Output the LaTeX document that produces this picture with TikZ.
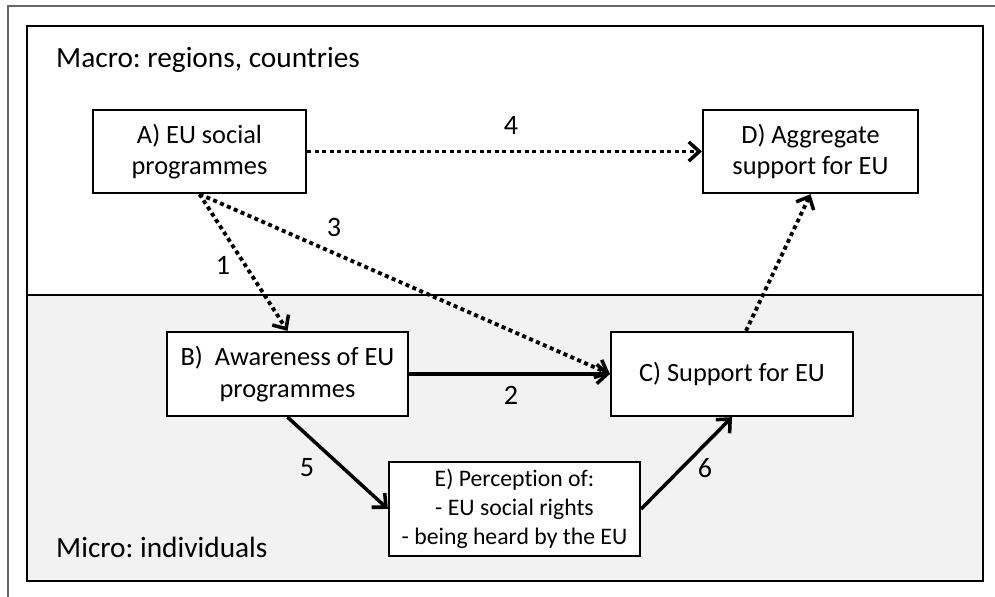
\documentclass[tikz,border=0pt]{standalone}
\usepackage{fontspec}
\setmainfont{Carlito}[Ligatures=NoCommon]
\usetikzlibrary{arrows.meta}
\frenchspacing

\tikzset{
	box/.style={draw, line width=1.3pt, fill=white, align=center, font=\fontsize{15}{18}\selectfont},
	num/.style={font=\fontsize{16}{18}\selectfont},
	level/.style={font=\fontsize{16.7}{19}\selectfont, anchor=base west},
	link/.style={line width=2pt, -{Straight Barb[length=6pt, width=11pt, line width=2pt]}},
	dots/.style={link, line width=2.2pt, dash pattern=on 0.08cm off 0.07cm},
}

\begin{document}
\begin{tikzpicture}[x=0.02cm, y=-0.02cm]
	\useasboundingbox (0,0) rectangle (995,597);
	\draw[gray!80!black, line width=0.6pt] (8,597) -- (8,6) -- (995,6);
	\fill[gray!10] (27,295) rectangle (983,581);
	\draw[line width=1.4pt] (27,26) rectangle (983,581);
	\draw[line width=1.4pt] (27,295) -- (983,295);
	
	\node[level] (macro) at (50,68) {Macro: regions, countries};
	\node[level] (micro) at (50,558) {Micro: individuals};
	
	\node[box, minimum width=4.26cm, minimum height=1.66cm] (A) at (199.5,151.5) {A) EU social\\programmes};
	\node[box, minimum width=4.3cm, minimum height=1.66cm] (D) at (810.5,151.5) {D) Aggregate\\support for EU};
	\node[box, minimum width=4.82cm, minimum height=1.68cm] (B) at (287.5,374) {B)\ \ Awareness of EU\\programmes};
	\node[box, minimum width=4.84cm, minimum height=1.68cm] (C) at (732,374) {C) Support for EU};
	\node[box, minimum width=5.02cm, minimum height=1.88cm, font=\fontsize{13.5}{16.5}\selectfont] (E) at (514.5,509) {E) Perception of:\\- EU social rights\\- being heard by the EU};
	
	\draw[dots] (A.east) -- (D.west);
	\draw[dots] (A.south) -- (B.north);
	\draw[dots] (A.south) -- (C.west);
	\draw[dots] ([xshift=0.28cm]C.north) -- (D.south);
	\draw[link] (B.east) -- (C.west);
	\draw[link] (B.south) -- (E.west);
	\draw[link] (E.east) -- (C.south);
	
	\node[num] (n1) at (223,265) {1};
	\node[num] (n2) at (511,395) {2};
	\node[num] (n3) at (334,227) {3};
	\node[num] (n4) at (511,125) {4};
	\node[num] (n5) at (307,468) {5};
	\node[num] (n6) at (705,468) {6};
\end{tikzpicture}
\end{document}
